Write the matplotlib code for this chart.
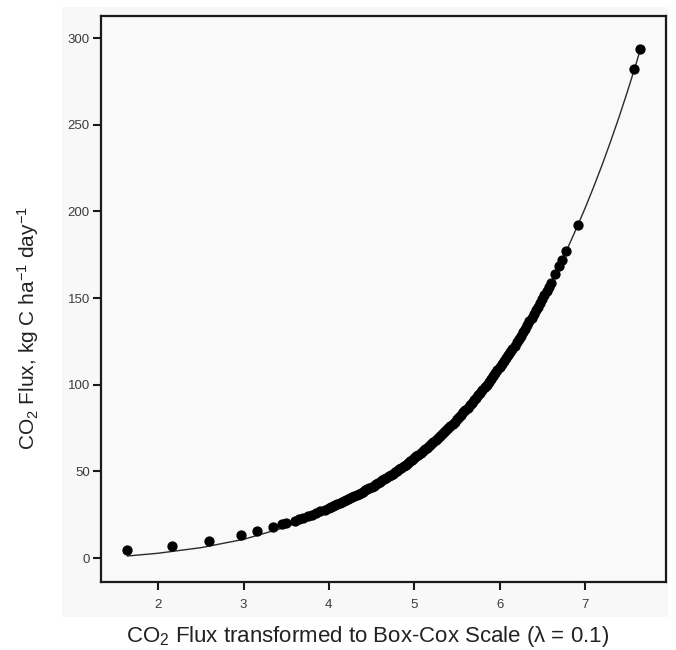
import matplotlib
matplotlib.use("Agg")
import matplotlib.pyplot as plt
from matplotlib.patches import Rectangle

plt.rcParams['font.family'] = ['Liberation Sans', 'DejaVu Sans']
plt.rcParams['mathtext.fontset'] = 'custom'
plt.rcParams['mathtext.rm'] = 'Liberation Sans'
plt.rcParams['mathtext.it'] = 'Liberation Sans:italic'

# observed flux: Box-Cox value (lambda = 0.1) vs original flux
boxcox_x = [1.64, 2.16, 2.59, 2.97, 3.16, 3.35, 3.45, 3.50, 3.60, 3.65,
            3.70, 3.75, 3.80, 3.85, 3.90, 3.95, 4.00, 4.05, 4.10, 4.15,
            4.20, 4.25, 4.30, 4.35, 4.40, 4.45, 4.50, 4.55, 4.60, 4.65,
            4.70, 4.75, 4.80, 4.85, 4.90, 4.95,
            4.025, 4.075, 4.125, 4.175, 4.225, 4.275, 4.325, 4.375,
            4.425, 4.475, 4.525, 4.575, 4.625, 4.675, 4.725, 4.775,
            4.825, 4.875, 4.925, 4.975,
            5.000, 5.025, 5.050, 5.075, 5.100, 5.125, 5.150, 5.175,
            5.200, 5.225, 5.250, 5.275, 5.300, 5.325, 5.350, 5.375,
            5.400, 5.425, 5.450, 5.475, 5.500, 5.525, 5.550, 5.575,
            5.600, 5.625, 5.650, 5.675, 5.700, 5.725, 5.750, 5.775,
            5.800, 5.825, 5.850, 5.875, 5.900, 5.925, 5.950, 5.975,
            6.000, 6.025, 6.050, 6.075, 6.100, 6.125, 6.150, 6.175,
            6.200, 6.225, 6.250, 6.275, 6.300, 6.325, 6.350, 6.375,
            6.400, 6.425, 6.450, 6.475, 6.500, 6.525, 6.550, 6.575,
            6.600, 6.65, 6.70, 6.73, 6.78, 6.92, 7.58, 7.65]
flux = [4.6, 7.1, 10.0, 13.4, 15.6, 18.0, 19.4, 20.1, 21.6, 22.5,
        23.29, 24.15, 25.05, 25.97, 26.93, 27.91, 28.93, 29.98, 31.06, 32.18,
        33.34, 34.53, 35.76, 37.03, 38.34, 39.69, 41.09, 42.52, 44.01, 45.54,
        47.12, 48.74, 50.42, 52.15, 53.93, 55.77,
        29.45, 30.52, 31.62, 32.76, 33.93, 35.14, 36.39, 37.68,
        39.01, 40.39, 41.80, 43.26, 44.77, 46.32, 47.92, 49.57,
        51.28, 53.03, 54.84, 56.71,
        57.67, 58.64, 59.62, 60.62, 61.63, 62.65, 63.69, 64.75,
        65.83, 66.92, 68.03, 69.16, 70.30, 71.45, 72.62, 73.81,
        75.03, 76.25, 77.49, 78.76, 80.04, 81.34, 82.66, 84.00,
        85.37, 86.74, 88.14, 89.56, 91.00, 92.46, 93.94, 95.44,
        96.96, 98.50, 100.07, 101.66, 103.27, 104.90, 106.56, 108.24,
        109.95, 111.68, 113.43, 115.22, 117.02, 118.85, 120.70, 122.58,
        124.50, 126.43, 128.39, 130.38, 132.40, 134.44, 136.51, 138.61,
        140.75, 142.90, 145.09, 147.31, 149.57, 151.84, 154.15, 156.49,
        158.88, 163.7, 168.7, 171.8, 177.0, 192.4, 282.0, 293.5]

# fitted curve
fit_x = [1.64, 2.0, 2.5, 3.0, 3.5, 4.0, 4.5, 5.0, 5.5, 5.75, 6.0, 6.25,
         6.5, 6.6, 6.7, 6.8, 6.9, 7.0, 7.1, 7.2, 7.3, 7.4, 7.5, 7.6, 7.65]
fit_y = [1.2, 2.8, 6.0, 10.8, 17.9, 27.9, 40.8, 57.67, 80.04, 93.9, 109.95, 128.4,
         149.57, 158.88, 168.71, 179.1, 190.1, 201.6, 213.8, 226.6, 240.2, 254.4,
         269.4, 285.2, 293.5]

fig = plt.figure(figsize=(6.76, 6.5), dpi=100, facecolor='white')
fig.patches.append(Rectangle((62 / 676, 1 - 617 / 650), 606 / 676, 610 / 650,
                             transform=fig.transFigure, facecolor='#f8f8f8',
                             edgecolor='none', zorder=-1))

ax = fig.add_axes([0.1494, 0.1046, 0.8358, 0.8708])
ax.set_facecolor('#f9f9f9')

ax.plot(fit_x, fit_y, color='#2a2a2a', lw=1.0, zorder=2)
ax.plot(boxcox_x, flux, 'o', color='black', ms=6.4, mec='black', zorder=3)

ax.set_xlim(1.33, 7.95)
ax.set_ylim(-13.8, 312.7)
ax.set_xticks([2, 3, 4, 5, 6, 7])
ax.set_yticks([0, 50, 100, 150, 200, 250, 300])

for s in ax.spines.values():
    s.set_linewidth(1.6)
    s.set_color('#1a1a1a')
ax.tick_params(direction='out', length=6, width=1.5, color='#1a1a1a',
               labelsize=9.5, labelcolor='#3c3c3c')
ax.tick_params(axis='x', pad=6)
ax.tick_params(axis='y', pad=2)

fig.text(0.544, 0.021, r'CO$_2$ Flux transformed to Box-Cox Scale (λ = 0.1)',
         ha='center', va='center', fontsize=16, color='#222222')
fig.text(0.041, 0.495, r'CO$_2$ Flux, kg C ha$^{-1}$ day$^{-1}$',
         ha='center', va='center', rotation=90, fontsize=15, color='#222222')

fig.savefig('out.png', dpi=100, facecolor='white')
